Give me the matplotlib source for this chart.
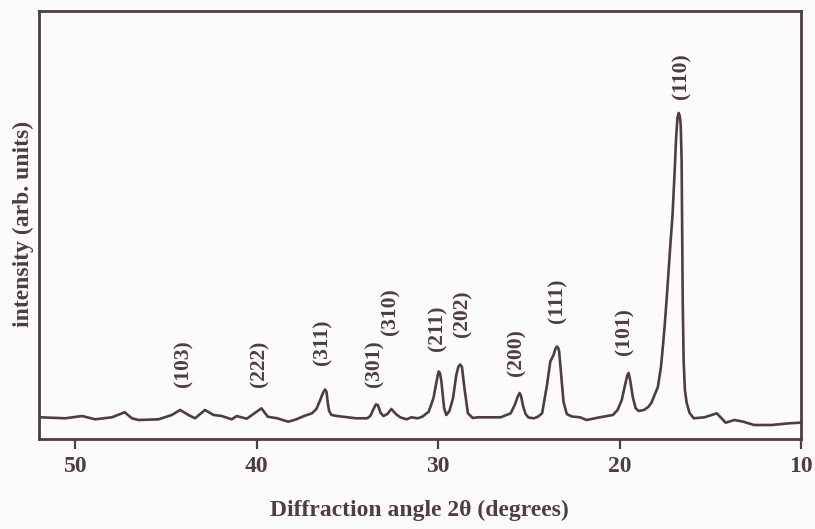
import matplotlib
matplotlib.use("Agg")
import matplotlib.pyplot as plt

# ---- data ----
two_theta = [51.93, 50.55, 49.63, 48.90, 47.98, 47.28, 46.88, 46.51, 45.41, 44.68,
             44.22, 43.76, 43.40, 42.85, 42.38, 41.93, 41.38, 41.10, 40.83, 40.55,
             40.18, 39.74, 39.39, 38.87, 38.26, 37.82, 37.39, 36.96, 36.71, 36.50,
             36.35, 36.23, 36.15, 36.09, 36.01, 35.88, 35.57, 34.52, 33.91, 33.74,
             33.56, 33.43, 33.32, 33.17, 33.01, 32.80, 32.58, 32.33, 32.09, 31.74,
             31.48, 31.13, 30.87, 30.52, 30.26, 30.09, 30.02, 29.97, 29.90, 29.82,
             29.67, 29.55, 29.38, 29.18, 29.00, 28.89, 28.79, 28.69, 28.55, 28.36,
             28.09, 27.82, 27.09, 26.55, 26.00, 25.78, 25.62, 25.51, 25.43, 25.32,
             25.18, 25.02, 24.73, 24.53, 24.27, 24.00, 23.82, 23.64, 23.53, 23.45,
             23.37, 23.33, 23.22, 23.09, 22.91, 22.64, 22.18, 21.82, 21.09, 20.37,
             20.11, 19.88, 19.71, 19.57, 19.50, 19.42, 19.27, 19.12, 18.95, 18.65,
             18.42, 18.25, 17.89, 17.72, 17.63, 17.51, 17.37, 17.22, 17.08, 16.96,
             16.89, 16.81, 16.74, 16.68, 16.63, 16.58, 16.55, 16.52, 16.47, 16.40,
             16.30, 16.14, 15.91, 15.32, 14.64, 14.15, 13.67, 13.18, 12.59, 11.62,
             10.64, 10.06]
intensity = [5.07, 4.84, 5.37, 4.60, 5.07, 6.24, 4.84, 4.44, 4.60, 5.61,
             6.78, 5.61, 4.84, 6.78, 5.61, 5.37, 4.60, 5.37, 5.07, 4.74,
             5.84, 7.17, 5.21, 4.84, 4.04, 4.60, 5.37, 6.00, 7.01, 9.11,
             10.75, 11.57, 10.98, 8.64, 6.54, 5.61, 5.37, 4.84, 4.84, 5.37,
             7.01, 8.06, 7.94, 6.07, 5.37, 5.84, 7.01, 5.84, 5.07, 4.60,
             5.07, 4.84, 5.21, 6.38, 9.51, 13.39, 14.95, 15.77, 15.42, 13.39,
             7.17, 5.61, 6.54, 9.51, 14.95, 16.82, 17.41, 16.89, 11.85, 6.00,
             4.91, 5.07, 5.07, 5.07, 6.00, 7.94, 9.81, 10.75, 10.05, 7.71,
             5.84, 5.02, 4.84, 5.14, 6.00, 12.62, 18.06, 19.63, 21.14, 21.61,
             21.14, 20.40, 14.95, 8.71, 5.84, 5.26, 5.07, 4.44, 5.07, 5.61,
             6.78, 9.11, 12.38, 14.95, 15.42, 13.79, 9.81, 7.24, 6.54, 6.78,
             7.48, 8.41, 12.15, 16.82, 20.79, 26.64, 34.81, 44.16, 52.34, 62.85,
             69.86, 75.00, 76.17, 75.47, 73.36, 65.19, 48.83, 32.48, 18.46, 11.45,
             8.41, 6.07, 4.84, 5.07, 6.00, 3.81, 4.44, 4.04, 3.27, 3.27,
             3.67, 3.81]

peak_labels = ["(103)", "(222)", "(311)", "(301)", "(310)", "(211)",
               "(202)", "(200)", "(111)", "(101)", "(110)"]
peak_label_x = [44.02, 39.84, 36.40, 33.53, 32.64, 30.04, 28.67, 25.67, 23.44, 19.71, 16.61]
peak_label_y = [17.5, 17.5, 22.7, 17.5, 29.7, 25.9, 29.2, 20.3, 32.2, 25.2, 84.8]

x_ticks = [50, 40, 30, 20, 10]
x_tick_labels = ["50", "40", "30", "20", "10"]

# ---- styling ----
ink = "#4f3d40"
bg = "#fcfbfb"
font = "Liberation Serif"

fig = plt.figure(figsize=(8.15, 5.29), dpi=100, facecolor=bg)
ax = fig.add_axes([39 / 815, 1 - 439 / 529, 762 / 815, 428 / 529], facecolor=bg)

ax.plot(two_theta, intensity, color=ink, linewidth=1.9,
        solid_joinstyle="round", solid_capstyle="round")

for lab, lx, ly in zip(peak_labels, peak_label_x, peak_label_y):
    ax.text(lx, ly, lab, rotation=90, ha="center", va="center",
            fontsize=15.5, fontfamily=font, fontweight="bold", color=ink)

ax.set_xlim(52, 10)
ax.set_ylim(0, 100)
ax.set_xticks(x_ticks)
ax.set_xticklabels(x_tick_labels, fontfamily=font, fontweight="bold",
                   fontsize=17, color=ink)
ax.set_yticks([])
ax.tick_params(axis="x", direction="out", length=7, width=1.6,
               color=ink, pad=5)

for sp in ax.spines.values():
    sp.set_color(ink)
    sp.set_linewidth(2.0)

ax.set_xlabel("Diffraction angle 2\u03b8 (degrees)", fontfamily=font,
              fontweight="bold", fontsize=17, color=ink)
ax.xaxis.label.set_va("center")
ax.xaxis.set_label_coords(0.499, -0.166)

ax.set_ylabel("intensity (arb. units)", fontfamily=font,
              fontweight="bold", fontsize=17, color=ink)
ax.yaxis.label.set_va("center")
ax.yaxis.set_label_coords(-0.021, 0.502)

fig.savefig("out.png", dpi=100, facecolor=bg)
